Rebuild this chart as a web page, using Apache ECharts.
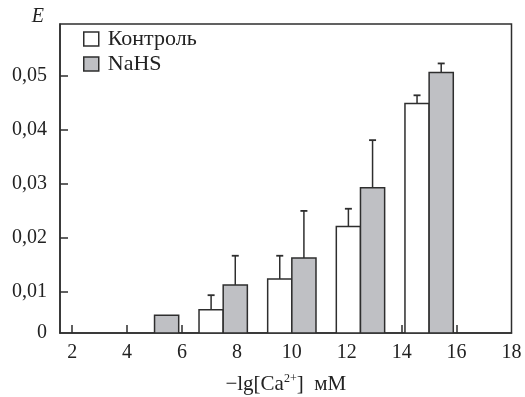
<!DOCTYPE html>
<html><head><meta charset="utf-8">
<script src="https://cdn.jsdelivr.net/npm/echarts@6/dist/echarts.min.js"></script>
<style>html,body{margin:0;padding:0;background:#fff}#c{width:525px;height:397px}</style>
</head><body><div id="c"></div>
<script>
// Data
var groupX = [5, 7.5, 10, 12.5, 15];            // -lg[Ca2+] group positions
var controlVals = [null, 0.0067, 0.0124, 0.0221, 0.0449];
var controlErr  = [null, 0.0027, 0.0043, 0.0033, 0.0015];
var nahsVals    = [0.0057, 0.0113, 0.0163, 0.0293, 0.0506];
var nahsErr     = [null, 0.0054, 0.0087, 0.0088, 0.0017];
var xTickLabels = [2, 4, 6, 8, 10, 12, 14, 16, 18];
var yTickLabels = [0.01, 0.02, 0.03, 0.04, 0.05];
var seriesNames = ['Контроль', 'NaHS'];

var Y_MIN = 0.0024, Y_MAX = 0.0596;
var HALF = 0.44, BW = 0.88;
var FONT = '"Liberation Serif", "Times New Roman", serif';
var INK = '#2e2e2e';
var FS = 20;

function barData(vals, errs, side) {
  var out = [];
  for (var i = 0; i < groupX.length; i++) {
    if (vals[i] == null) continue;
    out.push([groupX[i] + side * HALF, vals[i], errs[i] == null ? 0 : errs[i]]);
  }
  return out;
}

function renderBar(params, api) {
  var x = api.value(0), v = api.value(1), e = api.value(2);
  var w = api.size([BW, 0])[0];
  var top = api.coord([x, v]);
  var base = api.coord([x, Y_MIN]);
  var children = [{
    type: 'rect',
    shape: {x: top[0] - w / 2, y: top[1], width: w, height: base[1] - top[1]},
    style: {fill: api.visual('color'), stroke: INK, lineWidth: 1.5}
  }];
  if (e > 0) {
    var et = api.coord([x, v + e]);
    children.push({type: 'line', shape: {x1: top[0], y1: top[1], x2: top[0], y2: et[1]}, style: {stroke: INK, lineWidth: 1.5}});
    children.push({type: 'line', shape: {x1: top[0] - 3.5, y1: et[1], x2: top[0] + 3.5, y2: et[1]}, style: {stroke: INK, lineWidth: 1.8}});
  }
  return {type: 'group', children: children};
}

var chart = echarts.init(document.getElementById('c'));
chart.setOption({
  animation: false,
  backgroundColor: '#fff',
  grid: {left: 60, right: 13.5, top: 24, bottom: 64, show: true, borderColor: INK, borderWidth: 1.5,
         containLabel: false, outerBoundsMode: 'none'},
  legend: {
    orient: 'vertical', left: 83, top: 28, padding: 0, itemWidth: 15, itemHeight: 14, itemGap: 3,
    textStyle: {fontFamily: FONT, fontSize: 22, color: '#222', padding: [0, 0, 0, 4]},
    data: [
      {name: seriesNames[0], icon: 'rect', itemStyle: {color: '#fff', borderColor: INK, borderWidth: 1.5}},
      {name: seriesNames[1], icon: 'rect', itemStyle: {color: '#bfc0c4', borderColor: INK, borderWidth: 1.5}}
    ]
  },
  xAxis: {
    type: 'value', min: 1.557, max: 18,
    name: '−lg[Ca{sup|2+}]  мМ', nameLocation: 'middle', nameGap: 40,
    nameTextStyle: {fontFamily: FONT, fontSize: 21, color: '#222',
      rich: {sup: {fontFamily: FONT, fontSize: 12, verticalAlign: 'top', padding: [0, 0, 10, 0], color: '#222'}}},
    axisLine: {show: true, lineStyle: {color: INK, width: 1.5}},
    axisTick: {show: true, inside: true, length: 8, customValues: xTickLabels.slice(0, -1), lineStyle: {color: INK, width: 1.5}},
    axisLabel: {customValues: xTickLabels, margin: 10, fontFamily: FONT, fontSize: FS, color: '#222'},
    splitLine: {show: false}
  },
  yAxis: {
    type: 'value', min: Y_MIN, max: Y_MAX,
    name: 'E', nameLocation: 'end', nameGap: 7,
    nameTextStyle: {fontFamily: FONT, fontSize: FS, fontStyle: 'italic', color: '#222', align: 'right', verticalAlign: 'middle', padding: [0, 16, 0, 0]},
    axisLine: {show: true, lineStyle: {color: INK, width: 1.5}},
    axisTick: {show: true, inside: true, length: 8, customValues: yTickLabels, lineStyle: {color: INK, width: 1.5}},
    axisLabel: {customValues: [Y_MIN].concat(yTickLabels), margin: 13, fontFamily: FONT, fontSize: FS, color: '#222',
      formatter: function (v) { return v < 0.005 ? '0' : v.toFixed(2).replace('.', ','); }},
    splitLine: {show: false}
  },
  series: [
    {name: seriesNames[0], type: 'custom', renderItem: renderBar, itemStyle: {color: '#ffffff'},
     encode: {x: 0, y: 1}, data: barData(controlVals, controlErr, -1), clip: true},
    {name: seriesNames[1], type: 'custom', renderItem: renderBar, itemStyle: {color: '#bfc0c4'},
     encode: {x: 0, y: 1}, data: barData(nahsVals, nahsErr, 1), clip: true}
  ]
});
</script>
</body></html>
